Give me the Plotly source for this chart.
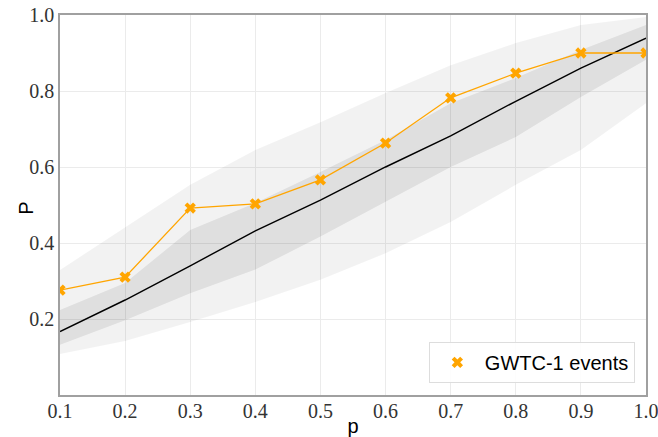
import plotly.graph_objects as go

p_vals = [0.1, 0.2, 0.3, 0.4, 0.5, 0.6, 0.7, 0.8, 0.9, 1.0]
gwtc_P = [0.276, 0.31, 0.492, 0.503, 0.566, 0.663, 0.782, 0.847, 0.90, 0.90]
median_P = [0.167, 0.25, 0.34, 0.432, 0.513, 0.60, 0.682, 0.773, 0.86, 0.939]
inner_lo = [0.132, 0.197, 0.268, 0.33, 0.417, 0.509, 0.60, 0.679, 0.784, 0.882]
inner_hi = [0.224, 0.295, 0.434, 0.505, 0.587, 0.671, 0.768, 0.834, 0.908, 0.974]
outer_lo = [0.108, 0.142, 0.192, 0.245, 0.303, 0.373, 0.455, 0.553, 0.645, 0.768]
outer_hi = [0.329, 0.44, 0.553, 0.645, 0.718, 0.795, 0.868, 0.926, 0.974, 0.995]

x_ticks = [0.1, 0.2, 0.3, 0.4, 0.5, 0.6, 0.7, 0.8, 0.9, 1.0]
y_ticks = [0.2, 0.4, 0.6, 0.8, 1.0]

orange = "#FFA500"
fig = go.Figure()

# outer band
fig.add_trace(go.Scatter(x=p_vals, y=outer_lo, mode="lines", line=dict(width=0),
                         showlegend=False, hoverinfo="skip"))
fig.add_trace(go.Scatter(x=p_vals, y=outer_hi, mode="lines", line=dict(width=0),
                         fill="tonexty", fillcolor="rgba(0,0,0,0.05)",
                         showlegend=False, hoverinfo="skip"))
# inner band
fig.add_trace(go.Scatter(x=p_vals, y=inner_lo, mode="lines", line=dict(width=0),
                         showlegend=False, hoverinfo="skip"))
fig.add_trace(go.Scatter(x=p_vals, y=inner_hi, mode="lines", line=dict(width=0),
                         fill="tonexty", fillcolor="rgba(0,0,0,0.08)",
                         showlegend=False, hoverinfo="skip"))
# median
fig.add_trace(go.Scatter(x=p_vals, y=median_P, mode="lines",
                         line=dict(color="black", width=1.4), showlegend=False))
# events line
fig.add_trace(go.Scatter(x=p_vals, y=gwtc_P, mode="lines",
                         line=dict(color=orange, width=1.3), showlegend=False))
# events markers
fig.add_trace(go.Scatter(x=p_vals, y=gwtc_P, mode="markers", name="GWTC-1 events",
                         marker=dict(symbol="x", size=10, color=orange,
                                     line=dict(width=0))))

axis_common = dict(showline=True, linecolor="#a0a0a0", linewidth=1.5, mirror=True,
                   showgrid=True, gridcolor="#ebebeb", gridwidth=1,
                   ticks="", zeroline=False, automargin=False,
                   ticklabeloverflow="allow",
                   tickfont=dict(family="Liberation Serif, DejaVu Serif, serif",
                                 size=20, color="#333"))

fig.update_xaxes(range=[0.1, 1.0], tickvals=x_ticks,
                 ticktext=[f"{v:.1f}" for v in x_ticks],
                 ticklabelstandoff=-3,
                 title=dict(text="p", font=dict(family="Liberation Sans", size=20, color="black"),
                            standoff=2),
                 **axis_common)
fig.update_yaxes(range=[0.0, 1.0], tickvals=y_ticks,
                 ticktext=[f"{v:.1f}" for v in y_ticks],
                 **axis_common)

fig.add_annotation(text="P", xref="paper", yref="paper", x=-0.058, y=0.49,
                   xanchor="center", yanchor="middle", textangle=-90, showarrow=False,
                   font=dict(family="Liberation Sans", size=20, color="black"))

fig.update_layout(
    width=658, height=437,
    margin=dict(l=60, r=12, t=15, b=42),
    plot_bgcolor="white", paper_bgcolor="white",
    legend=dict(x=0.981, y=0.032, xanchor="right", yanchor="bottom",
                bordercolor="#dddddd", borderwidth=1, bgcolor="rgba(255,255,255,0.9)",
                itemwidth=45,
                font=dict(family="Liberation Sans", size=20, color="black")),
)

fig.write_html("out.html", config={"displayModeBar": False},
               post_script="document.body.style.margin='0px';document.body.style.overflow='hidden';")
